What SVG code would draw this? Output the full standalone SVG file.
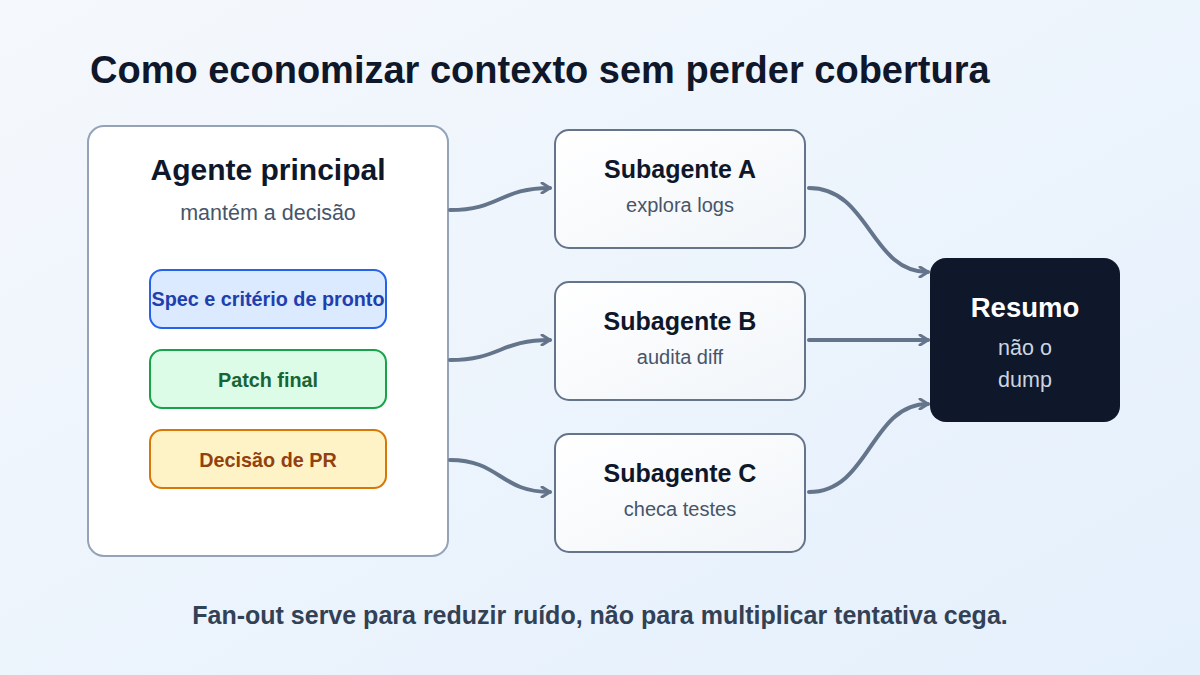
<svg xmlns="http://www.w3.org/2000/svg" width="1200" height="675" viewBox="0 0 1200 675">
<defs>
<linearGradient id="bg" x1="0" y1="0" x2="1" y2="1"><stop offset="0" stop-color="#f5f8fc"/><stop offset="1" stop-color="#e4f0fc"/></linearGradient>
<linearGradient id="sub" x1="0" y1="0" x2="1" y2="1"><stop offset="0" stop-color="#ffffff"/><stop offset="1" stop-color="#f1f5f9"/></linearGradient>
<marker id="ah" viewBox="0 0 12 12" refX="10" refY="6" markerWidth="12" markerHeight="12" markerUnits="userSpaceOnUse" orient="auto"><path d="M2 1 L10 6 L2 11" fill="none" stroke="#64748b" stroke-width="3" stroke-linecap="round" stroke-linejoin="round"/></marker>
</defs>
<style>
text{font-family:"Liberation Sans",Arial,sans-serif;text-anchor:middle}
.t{font-weight:bold}
.c{fill:none;stroke:#64748b;stroke-width:4;stroke-linecap:round;marker-end:url(#ah)}
.sb{fill:url(#sub);stroke:#64748b;stroke-width:2}
</style>
<rect width="1200" height="675" fill="url(#bg)"/>
<text x="90" y="83" class="t" font-size="38" fill="#0f172a" style="text-anchor:start">Como economizar contexto sem perder cobertura</text>
<g id="agente">
<rect x="88" y="126" width="360" height="430" rx="16" fill="#fff" stroke="#94a3b8" stroke-width="2"/>
<text x="268" y="180" class="t" font-size="30" fill="#0f172a">Agente principal</text>
<text x="268" y="220" font-size="21.5" fill="#475569">mantém a decisão</text>
</g>
<g id="spec"><rect x="150" y="270" width="236" height="58" rx="12" fill="#dbeafe" stroke="#2563eb" stroke-width="2"/><text x="268" y="306" class="t" font-size="19.8" fill="#1e40af">Spec e critério de pronto</text></g>
<g id="patch"><rect x="150" y="350" width="236" height="58" rx="12" fill="#dcfce7" stroke="#16a34a" stroke-width="2"/><text x="268" y="387" class="t" font-size="19.8" fill="#166534">Patch final</text></g>
<g id="pr"><rect x="150" y="430" width="236" height="58" rx="12" fill="#fef3c7" stroke="#d97706" stroke-width="2"/><text x="268" y="467" class="t" font-size="19.8" fill="#92400e">Decisão de PR</text></g>
<g id="subA"><rect x="555" y="130" width="250" height="118" rx="14" class="sb"/><text x="680" y="178" class="t" font-size="25" fill="#0f172a">Subagente A</text><text x="680" y="212" font-size="20" fill="#475569">explora logs</text></g>
<g id="subB"><rect x="555" y="282" width="250" height="118" rx="14" class="sb"/><text x="680" y="330" class="t" font-size="25" fill="#0f172a">Subagente B</text><text x="680" y="364" font-size="20" fill="#475569">audita diff</text></g>
<g id="subC"><rect x="555" y="434" width="250" height="118" rx="14" class="sb"/><text x="680" y="482" class="t" font-size="25" fill="#0f172a">Subagente C</text><text x="680" y="516" font-size="20" fill="#475569">checa testes</text></g>
<g id="resumo"><rect x="930" y="258" width="190" height="164" rx="16" fill="#0f172a"/><text x="1025" y="317" class="t" font-size="27.5" fill="#fff">Resumo</text><text x="1025" y="355" font-size="21.5" fill="#cbd5e1">não o</text><text x="1025" y="387" font-size="21.5" fill="#cbd5e1">dump</text></g>
<g id="connectors">
<path class="c" d="M450 210 C500 210 500 188 550 188"/>
<path class="c" d="M450 360 C500 360 500 340 550 340"/>
<path class="c" d="M450 460 C500 460 500 492 550 492"/>
<path class="c" d="M809 188 C870 188 870 272 928 272"/>
<path class="c" d="M809 340 L928 340"/>
<path class="c" d="M809 492 C870 492 870 404 928 404"/>
</g>
<text x="600" y="624" class="t" font-size="25" fill="#334155">Fan-out serve para reduzir ruído, não para multiplicar tentativa cega.</text>
</svg>
